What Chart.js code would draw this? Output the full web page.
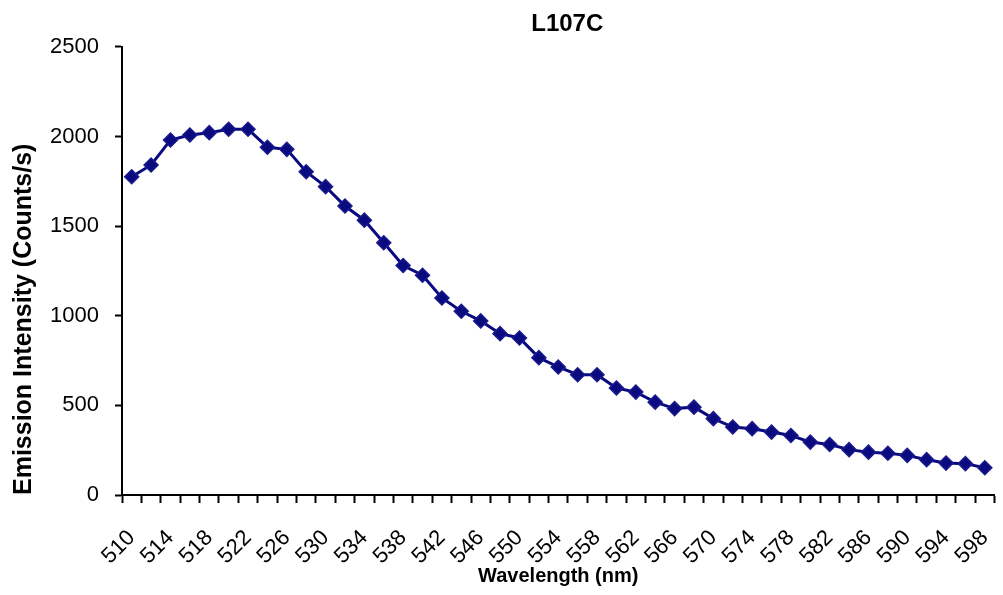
<!DOCTYPE html>
<html>
<head>
<meta charset="utf-8">
<script src="https://cdn.jsdelivr.net/npm/chart.js@4/dist/chart.umd.min.js"></script>
<style>
  html, body { margin: 0; padding: 0; background: #fff; }
  #wrap { width: 1003px; height: 595px; position: relative; }
</style>
</head>
<body>
<div id="wrap"><canvas id="chart"></canvas></div>
<script>
// --- Data ---
const wavelengths = [510, 512, 514, 516, 518, 520, 522, 524, 526, 528,
  530, 532, 534, 536, 538, 540, 542, 544, 546, 548,
  550, 552, 554, 556, 558, 560, 562, 564, 566, 568,
  570, 572, 574, 576, 578, 580, 582, 584, 586, 588,
  590, 592, 594, 596, 598];
const intensity = [1775, 1841, 1980, 2008, 2021, 2040, 2040, 1940, 1928, 1803,
  1720, 1612, 1533, 1407, 1280, 1226, 1099, 1025, 971, 900,
  876, 766, 714, 671, 671, 597, 574, 518, 482, 490,
  426, 379, 370, 351, 332, 295, 282, 253, 239, 233,
  221, 197, 178, 175, 152];
const yTicks = [0, 500, 1000, 1500, 2000, 2500];

// --- Style ---
const FONT = "'Liberation Sans', Arial, sans-serif";
const NAVY = '#0a0a80';

// nudge the title a bit to the right, like the original
const titleShift = {
  id: 'titleShift',
  afterLayout(chart) {
    const t = chart.titleBlock;
    if (t) { t.left = chart.chartArea.left + 18; t.right = chart.chartArea.right; }
  }
};

const ctx = document.getElementById('chart').getContext('2d');
new Chart(ctx, {
  type: 'line',
  data: {
    labels: wavelengths.map(String),
    datasets: [{
      label: 'L107C',
      data: intensity,
      borderColor: NAVY,
      backgroundColor: NAVY,
      borderWidth: 3,
      pointStyle: 'rectRot',
      pointRadius: 7,
      pointBorderWidth: 1.5,
      pointBorderColor: '#1a1a8c',
      pointBackgroundColor: NAVY,
      tension: 0
    }]
  },
  options: {
    responsive: true,
    maintainAspectRatio: false,
    animation: false,
    layout: { padding: { left: 0, right: 6, top: 0, bottom: 0 } },
    plugins: {
      legend: { display: false },
      tooltip: { enabled: false },
      title: {
        display: true,
        text: 'L107C',
        fullSize: false,
        color: '#000',
        font: { family: FONT, size: 24, weight: 'bold' },
        padding: { top: 10, bottom: 8 }
      }
    },
    scales: {
      x: {
        type: 'category',
        offset: true,
        border: { display: true, color: '#000', width: 2 },
        grid: {
          offset: true,
          drawOnChartArea: false,
          drawTicks: true,
          tickLength: 8,
          tickWidth: 2,
          tickColor: '#000'
        },
        ticks: {
          autoSkip: false,
          maxRotation: 45,
          minRotation: 45,
          padding: 22,
          color: '#000',
          font: { family: FONT, size: 22 },
          callback: function (val, i) { return i % 2 === 0 ? wavelengths[i] : ''; }
        },
        title: {
          display: true,
          text: 'Wavelength (nm)',
          color: '#000',
          font: { family: FONT, size: 20, weight: 'bold' },
          padding: { top: 0, bottom: 7 }
        },
        afterFit: function (scale) {
          scale.height = 100;
          scale.paddingLeft = 0;
          scale.paddingRight = 0;
        }
      },
      y: {
        min: yTicks[0],
        max: yTicks[yTicks.length - 1],
        border: { display: true, color: '#000', width: 2 },
        grid: {
          drawOnChartArea: false,
          drawTicks: true,
          tickLength: 7,
          tickWidth: 2,
          tickColor: '#000'
        },
        afterBuildTicks: function (scale) {
          scale.ticks = yTicks.map(v => ({ value: v }));
        },
        ticks: {
          padding: 16,
          color: '#000',
          font: { family: FONT, size: 22 },
          callback: function (v) { return String(v); }
        },
        title: {
          display: true,
          text: 'Emission Intensity (Counts/s)',
          align: 'start',
          color: '#000',
          font: { family: FONT, size: 25, weight: 'bold' },
          padding: { top: 9, bottom: 0 }
        },
        afterFit: function (scale) { scale.width = 122; }
      }
    }
  },
  plugins: [titleShift]
});
</script>
</body>
</html>
